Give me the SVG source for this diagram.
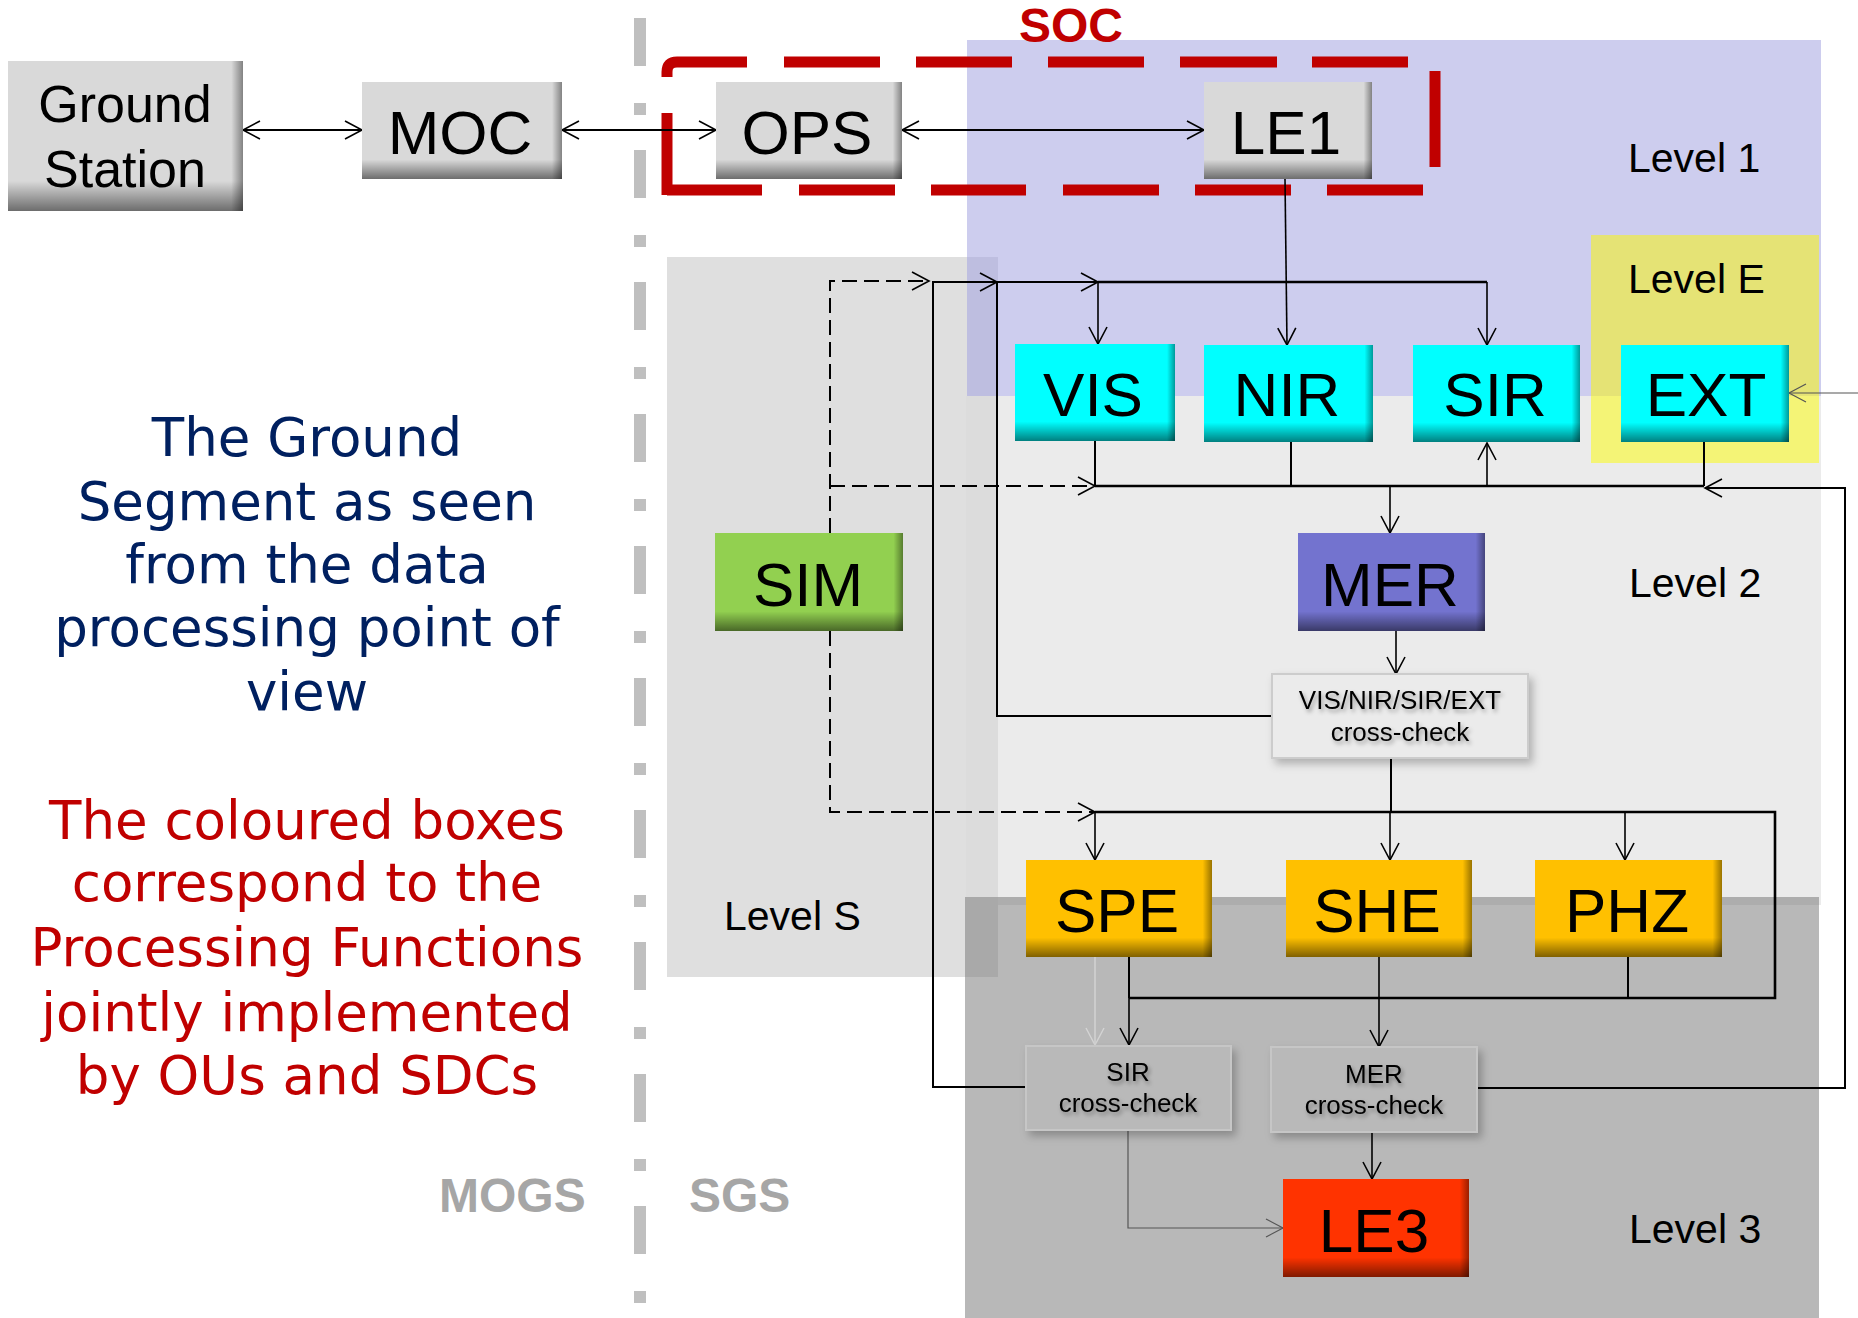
<svg xmlns="http://www.w3.org/2000/svg" width="1858" height="1318" viewBox="0 0 1858 1318">
<style>
.lbl{font-family:"Liberation Sans",Arial,sans-serif;fill:#000;text-anchor:middle}
.big{font-size:62px}
.lvl{font-family:"Liberation Sans",Arial,sans-serif;font-size:41px;fill:#000}
.cc{font-family:"Liberation Sans",Arial,sans-serif;font-size:26px;fill:#000;text-anchor:middle;filter:url(#tsh)}
.side{font-family:"DejaVu Sans",Verdana,sans-serif;font-size:53px;text-anchor:middle}
.seg{font-family:"Liberation Sans",Arial,sans-serif;font-size:48px;font-weight:bold;fill:#A6A6A6}
.ln{fill:none;stroke:#000;stroke-width:2}
.bus{fill:none;stroke:#000;stroke-width:2.6}
.ar{fill:none;stroke:#000;stroke-width:1.6;marker-end:url(#ah)}
.dsh{fill:none;stroke:#000;stroke-width:2;stroke-dasharray:15 7}
.soc{fill:none;stroke:#C00000;stroke-width:11}
</style>
<defs>
<marker id="ah" markerUnits="userSpaceOnUse" viewBox="0 0 20 20" markerWidth="20" markerHeight="20" refX="18" refY="10" orient="auto-start-reverse" overflow="visible">
<path d="M1,1 L18,10 L1,19" fill="none" stroke="#000" stroke-width="1.6"/>
</marker>
<marker id="ahg" markerUnits="userSpaceOnUse" viewBox="0 0 20 20" markerWidth="20" markerHeight="20" refX="18" refY="10" orient="auto" overflow="visible">
<path d="M1,1 L18,10 L1,19" fill="none" stroke="#555" stroke-width="1.2"/>
</marker>
<marker id="ahl" markerUnits="userSpaceOnUse" viewBox="0 0 20 20" markerWidth="20" markerHeight="20" refX="18" refY="10" orient="auto" overflow="visible">
<path d="M1,1 L18,10 L1,19" fill="none" stroke="#D4D4D4" stroke-width="1.4"/>
</marker>
<linearGradient id="shV" x1="0" y1="0" x2="0" y2="1">
<stop offset="0" stop-color="#000" stop-opacity="0"/>
<stop offset="0.8" stop-color="#000" stop-opacity="0"/>
<stop offset="1" stop-color="#000" stop-opacity="0.5"/>
</linearGradient>
<linearGradient id="shH" x1="0" y1="0" x2="1" y2="0">
<stop offset="0" stop-color="#000" stop-opacity="0"/>
<stop offset="0.95" stop-color="#000" stop-opacity="0"/>
<stop offset="1" stop-color="#000" stop-opacity="0.4"/>
</linearGradient>
<filter id="tsh" x="-10%" y="-30%" width="130%" height="180%">
<feDropShadow dx="2" dy="3" stdDeviation="2" flood-color="#000" flood-opacity="0.35"/>
</filter>
<filter id="bsh" x="-10%" y="-10%" width="130%" height="140%">
<feDropShadow dx="4" dy="5" stdDeviation="4" flood-color="#000" flood-opacity="0.25"/>
</filter>
</defs>

<g id="regions">
<rect x="967" y="40" width="854" height="356" fill="#CDCDEE"/>
<rect x="966" y="396" width="855" height="509" fill="#EBEBEB"/>
<rect x="965" y="897" width="854" height="421" fill="#B8B8B8"/>
<rect x="965" y="897" width="854" height="8" fill="#ADADAD"/>
<rect x="667" y="257" width="331" height="720" fill="#DFDFDF"/>
<rect x="967" y="257" width="31" height="139" fill="#BEBEE0"/>
<rect x="966" y="396" width="32" height="501" fill="#DCDCDC"/>
<rect x="965" y="897" width="33" height="80" fill="#A9A9A9"/>
<rect x="1591" y="235" width="228" height="161" fill="#E5E375"/>
<rect x="1591" y="396" width="228" height="67" fill="#F4F476"/>
<line x1="640" y1="18" x2="640" y2="1318" stroke="#BFBFBF" stroke-width="12" stroke-dasharray="48 37 12 35"/>
</g>

<g id="labels">
<text class="lvl" x="1628" y="172">Level 1</text>
<text class="lvl" x="1628" y="293">Level E</text>
<text class="lvl" x="1629" y="597">Level 2</text>
<text class="lvl" x="1629" y="1243">Level 3</text>
<text class="lvl" x="724" y="930">Level S</text>
<text class="seg" x="439" y="1212">MOGS</text>
<text class="seg" x="689" y="1212">SGS</text>
<text x="1019" y="42" font-family="Liberation Sans, Arial, sans-serif" font-size="48" font-weight="bold" fill="#C00000">SOC</text>
<text class="side" fill="#002060"><tspan x="307" y="456">The Ground</tspan><tspan x="307" y="520">Segment as seen</tspan><tspan x="307" y="583">from the data</tspan><tspan x="307" y="646">processing point of</tspan><tspan x="307" y="710">view</tspan></text>
<text class="side" fill="#C00000"><tspan x="307" y="839">The coloured boxes</tspan><tspan x="307" y="901">correspond to the</tspan><tspan x="307" y="966">Processing Functions</tspan><tspan x="307" y="1031">jointly implemented</tspan><tspan x="307" y="1094">by OUs and SDCs</tspan></text>
</g>

<g id="soc-box">
<path class="soc" d="M747,62 H677 Q667,62 667,72 V77"/>
<path class="soc" d="M784,62 H880 M916,62 H1012 M1048,62 H1144 M1180,62 H1277 M1312,62 H1408"/>
<path class="soc" d="M1435,71 V167"/>
<path class="soc" d="M667,113 V195"/>
<path class="soc" d="M667,190 H762 M799,190 H895 M931,190 H1026 M1063,190 H1159 M1195,190 H1291 M1327,190 H1423"/>
</g>

<g id="connectors">
<line class="ln" x1="243" y1="130" x2="362" y2="130" stroke-width="1.6" marker-start="url(#ah)" marker-end="url(#ah)"/>
<line class="ln" x1="562" y1="130" x2="716" y2="130" stroke-width="1.6" marker-start="url(#ah)" marker-end="url(#ah)"/>
<line class="ln" x1="902" y1="130" x2="1204" y2="130" stroke-width="1.6" marker-start="url(#ah)" marker-end="url(#ah)"/>
<path class="ar" d="M1285,179 L1287,345"/>
<path class="dsh" d="M830,533 V281 H929" marker-end="url(#ah)"/>
<path class="dsh" d="M830,486 H1095" marker-end="url(#ah)"/>
<path class="dsh" d="M830,631 V812 H1095" marker-end="url(#ah)"/>
<path class="ln" d="M1026,1087 H933 V282 H997" marker-end="url(#ah)"/>
<path class="ln" d="M1272,716 H997 V282 H1098" marker-end="url(#ah)"/>
<path class="bus" d="M1098,282 H1487"/>
<path class="ar" d="M1098,282 V344"/>
<path class="ar" d="M1487,282 V345"/>
<path class="ln" d="M1095,441 V486 M1291,442 V486 M1704,442 V486"/>
<path class="bus" d="M1095,486 H1704"/>
<path class="ar" d="M1487,486 V443"/>
<path class="ar" d="M1390,486 V533"/>
<path class="ln" d="M1477,1088 H1845 V488 H1705" marker-end="url(#ah)"/>
<path d="M1858,393 H1789" fill="none" stroke="#555" stroke-width="1.2" marker-end="url(#ahg)"/>
<path class="ar" d="M1396,631 V674"/>
<path class="ln" d="M1391,758 V812"/>
<path class="bus" d="M1095,812 H1775 V998 H1129"/>
<path class="ar" d="M1095,812 V860"/>
<path class="ar" d="M1390,812 V860"/>
<path class="ar" d="M1625,812 V860"/>
<path class="ln" d="M1129,957 V998"/>
<path class="ar" d="M1129,998 V1045"/>
<path class="ar" d="M1379,957 V1047"/>
<path class="ln" d="M1628,957 V998"/>
<path d="M1095,957 V1045" fill="none" stroke="#D4D4D4" stroke-width="1.4" marker-end="url(#ahl)"/>
<path d="M1128,1130 V1228 H1283" fill="none" stroke="#555" stroke-width="1.2" marker-end="url(#ahg)"/>
<path class="ar" d="M1372,1132 V1179"/>
</g>

<g id="ground-station">
<rect x="8" y="61" width="235" height="150" fill="#D9D9D9"/>
<rect x="8" y="61" width="235" height="150" fill="url(#shV)"/>
<rect x="8" y="61" width="235" height="150" fill="url(#shH)"/>
<text class="lbl" font-size="52"><tspan x="125" y="122">Ground</tspan><tspan x="125" y="187">Station</tspan></text>
</g>
<g id="moc">
<rect x="362" y="82" width="200" height="97" fill="#D9D9D9"/>
<rect x="362" y="82" width="200" height="97" fill="url(#shV)"/>
<rect x="362" y="82" width="200" height="97" fill="url(#shH)"/>
<text class="lbl big" x="460" y="154">MOC</text>
</g>
<g id="ops">
<rect x="716" y="82" width="186" height="97" fill="#D9D9D9"/>
<rect x="716" y="82" width="186" height="97" fill="url(#shV)"/>
<rect x="716" y="82" width="186" height="97" fill="url(#shH)"/>
<text class="lbl big" x="807" y="154">OPS</text>
</g>
<g id="le1">
<rect x="1204" y="82" width="168" height="97" fill="#D9D9D9"/>
<rect x="1204" y="82" width="168" height="97" fill="url(#shV)"/>
<rect x="1204" y="82" width="168" height="97" fill="url(#shH)"/>
<text class="lbl big" x="1286" y="154">LE1</text>
</g>
<g id="vis">
<rect x="1015" y="344" width="160" height="97" fill="#00FFFF"/>
<rect x="1015" y="344" width="160" height="97" fill="url(#shV)"/>
<rect x="1015" y="344" width="160" height="97" fill="url(#shH)"/>
<text class="lbl big" x="1093" y="416">VIS</text>
</g>
<g id="nir">
<rect x="1204" y="345" width="169" height="97" fill="#00FFFF"/>
<rect x="1204" y="345" width="169" height="97" fill="url(#shV)"/>
<rect x="1204" y="345" width="169" height="97" fill="url(#shH)"/>
<text class="lbl big" x="1287" y="416">NIR</text>
</g>
<g id="sir">
<rect x="1413" y="345" width="167" height="97" fill="#00FFFF"/>
<rect x="1413" y="345" width="167" height="97" fill="url(#shV)"/>
<rect x="1413" y="345" width="167" height="97" fill="url(#shH)"/>
<text class="lbl big" x="1495" y="416">SIR</text>
</g>
<g id="ext">
<rect x="1621" y="345" width="168" height="97" fill="#00FFFF"/>
<rect x="1621" y="345" width="168" height="97" fill="url(#shV)"/>
<rect x="1621" y="345" width="168" height="97" fill="url(#shH)"/>
<text class="lbl big" x="1706" y="416">EXT</text>
</g>
<g id="sim">
<rect x="715" y="533" width="188" height="98" fill="#92D050"/>
<rect x="715" y="533" width="188" height="98" fill="url(#shV)"/>
<rect x="715" y="533" width="188" height="98" fill="url(#shH)"/>
<text class="lbl big" x="808" y="606">SIM</text>
</g>
<g id="mer">
<rect x="1298" y="533" width="187" height="98" fill="#7373CF"/>
<rect x="1298" y="533" width="187" height="98" fill="url(#shV)"/>
<rect x="1298" y="533" width="187" height="98" fill="url(#shH)"/>
<text class="lbl big" x="1390" y="606">MER</text>
</g>
<g id="cc-all">
<rect x="1272" y="674" width="256" height="84" fill="#EBEBEB" stroke="#CCCCCC" stroke-width="2" filter="url(#bsh)"/>
<text class="cc"><tspan x="1400" y="709">VIS/NIR/SIR/EXT</tspan><tspan x="1400" y="741">cross-check</tspan></text>
</g>
<g id="spe">
<rect x="1026" y="860" width="186" height="97" fill="#FFC000"/>
<rect x="1026" y="860" width="186" height="97" fill="url(#shV)"/>
<rect x="1026" y="860" width="186" height="97" fill="url(#shH)"/>
<text class="lbl big" x="1117" y="932">SPE</text>
</g>
<g id="she">
<rect x="1286" y="860" width="186" height="97" fill="#FFC000"/>
<rect x="1286" y="860" width="186" height="97" fill="url(#shV)"/>
<rect x="1286" y="860" width="186" height="97" fill="url(#shH)"/>
<text class="lbl big" x="1377" y="932">SHE</text>
</g>
<g id="phz">
<rect x="1535" y="860" width="187" height="97" fill="#FFC000"/>
<rect x="1535" y="860" width="187" height="97" fill="url(#shV)"/>
<rect x="1535" y="860" width="187" height="97" fill="url(#shH)"/>
<text class="lbl big" x="1627" y="932">PHZ</text>
</g>
<g id="cc-sir">
<rect x="1026" y="1046" width="205" height="84" fill="#B9B9B9" stroke="#C6C6C6" stroke-width="2" filter="url(#bsh)"/>
<text class="cc"><tspan x="1128" y="1081">SIR</tspan><tspan x="1128" y="1112">cross-check</tspan></text>
</g>
<g id="cc-mer">
<rect x="1271" y="1047" width="206" height="85" fill="#B9B9B9" stroke="#C6C6C6" stroke-width="2" filter="url(#bsh)"/>
<text class="cc"><tspan x="1374" y="1083">MER</tspan><tspan x="1374" y="1114">cross-check</tspan></text>
</g>
<g id="le3">
<rect x="1283" y="1179" width="186" height="98" fill="#FF3300"/>
<rect x="1283" y="1179" width="186" height="98" fill="url(#shV)"/>
<rect x="1283" y="1179" width="186" height="98" fill="url(#shH)"/>
<text class="lbl big" x="1374" y="1252">LE3</text>
</g>
</svg>
